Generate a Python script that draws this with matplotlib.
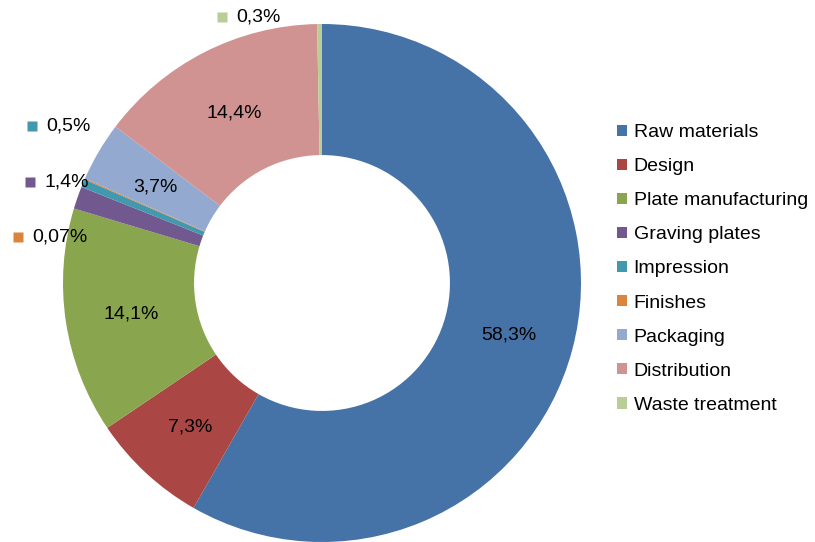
import matplotlib.pyplot as plt
import numpy as np

plt.rcParams['font.family'] = ['Liberation Sans', 'DejaVu Sans']

# Share of each life-cycle stage (%)
stages = ['Raw materials', 'Design', 'Plate manufacturing', 'Graving plates',
          'Impression', 'Finishes', 'Packaging', 'Distribution', 'Waste treatment']
shares = [58.3, 7.3, 14.1, 1.4, 0.5, 0.07, 3.7, 14.4, 0.3]
labels = ['58,3%', '7,3%', '14,1%', '1,4%', '0,5%', '0,07%', '3,7%', '14,4%', '0,3%']
colors = ['#4572A7', '#AA4643', '#89A54E', '#71588F', '#4198AF',
          '#DB843D', '#93A9CF', '#D19392', '#B9CD96']

# small slices get their label outside the ring, next to a colour square
outside = {3: (30, 182), 4: (32, 126), 5: (18, 237), 8: (222, 17)}

W, H = 815, 542
fig = plt.figure(figsize=(W / 100, H / 100), dpi=100)
ax = fig.add_axes([0, 0, 1, 1])

cx, cy, r = 322, H - 283, 259
ring = 0.506
wedges, _ = ax.pie(shares, colors=colors, startangle=90, counterclock=False,
                   center=(cx, cy), radius=r,
                   wedgeprops=dict(width=r * ring, linewidth=0))

total = sum(shares)
start = 90.0
for i, (w, lab) in enumerate(zip(wedges, labels)):
    span = shares[i] / total * 360
    mid = np.deg2rad(start - span / 2)
    start -= span
    if i in outside:
        px, py = outside[i]
        ax.plot(px, H - py, marker='s', ms=6.5, color=colors[i], mec='none')
        ax.text(px + 14, H - py, lab, fontsize=14, ha='left', va='center')
    else:
        rm = r * (1 - ring / 2)
        ax.text(cx + rm * np.cos(mid), cy + rm * np.sin(mid) - 2, lab,
                fontsize=14, ha='center', va='center')

ax.legend(wedges, stages, loc='upper left', bbox_to_anchor=(617 / W, 1 - 124 / H),
          frameon=False, fontsize=14, handlelength=0.5, handleheight=0.5,
          handletextpad=0.35, labelspacing=0.88, borderaxespad=0, borderpad=0)

ax.set_xlim(0, W)
ax.set_ylim(0, H)
ax.set_aspect('equal')
ax.axis('off')
fig.savefig('out.png', dpi=100)
